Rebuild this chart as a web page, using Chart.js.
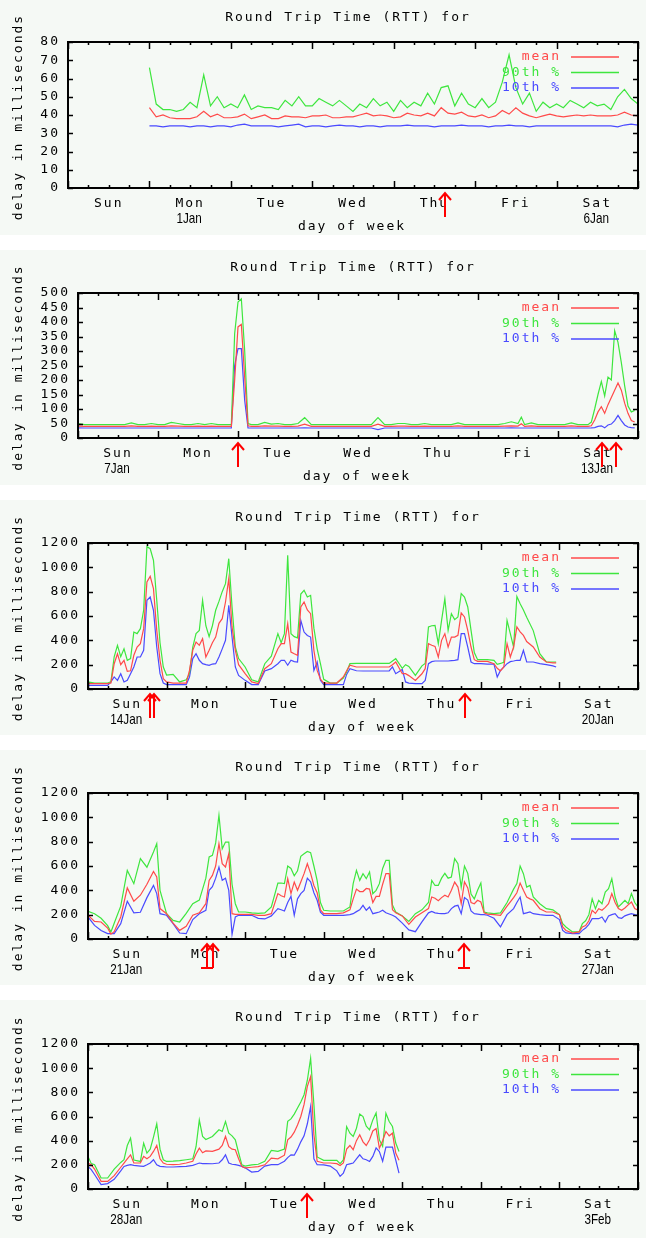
<!DOCTYPE html>
<html>
<head>
<meta charset="utf-8">
<title>Round Trip Time (RTT)</title>
<script src="https://cdn.jsdelivr.net/npm/chart.js@4.4.0/dist/chart.umd.min.js"></script>
<style>
  html, body { margin: 0; padding: 0; background: #ffffff; }
  canvas { position: absolute; left: 0; }
</style>
</head>
<body>
<canvas id="c1" width="646" height="235" style="top:0px;width:646px;height:235px"></canvas>
<canvas id="c2" width="646" height="235" style="top:250px;width:646px;height:235px"></canvas>
<canvas id="c3" width="646" height="235" style="top:500px;width:646px;height:235px"></canvas>
<canvas id="c4" width="646" height="235" style="top:750px;width:646px;height:235px"></canvas>
<canvas id="c5" width="646" height="238" style="top:1000px;width:646px;height:238px"></canvas>
<script>
// ---- labels ----
const days = ['Sun', 'Mon', 'Tue', 'Wed', 'Thu', 'Fri', 'Sat'];
const seriesNames = ['mean', '90th %', '10th %'];
const chartTitle = 'Round Trip Time (RTT) for';
const xTitle = 'day of week';
const yTitle = 'delay in milliseconds';

// ---- week 1 (1 Jan - 6 Jan), hours since Sunday 00:00 ----
const hours1 = [24,26,28,30,32,34,36,38,40,42,44,46, 48,50,52,54,56,58,60,62,64,66,68,70,
  72,74,76,78,80,82,84,86,88,90,92,94, 96,98,100,102,104,106,108,110,112,114,116,118,
  120,122,124,126,128,130,132,134,136,138,140,142, 144,146,148,150,152,154,156,158,160,162,164,166, 168];
const p90_1 = [66,46,43,43,42,43,47,44,62,45,50,44, 46,44,51,43,45,44,44,43,48,45,50,45,
  45,49,47,45,48,45,42,46,44,49,45,47, 42,48,44,47,45,52,46,55,56,45,52,46,
  44,49,44,47,58,73,55,46,52,42,47,44, 46,44,48,46,44,47,45,46,43,50,54,49, 46];
const mean1 = [44,39,40,38.5,38,38,38,39,42,39,40.5,38.5, 38.5,39,40.5,38,39,40,38,38,39.5,39,39,38.5,
  39.5,39.5,40,38.5,38.5,39,39,40,41,39.5,40,39.5, 38.5,39,41,40,39.5,41,39.5,44,41,40.5,41.5,39.5,
  39,40,38.5,39.5,42.5,40.5,44,41,39.5,38.5,39.5,40.5, 39.5,39,39.5,40,39.5,40,39.5,39.5,39.5,40,41.5,40, 39.5];
const p10_1 = [34,34,33.5,34,34,34,33.5,34,34,33.5,34,34, 33.5,34.5,35,34,34,34,34,33.5,34,34.5,35,33.5,
  34,34,33.5,34,34.5,34,34,33.5,34,34,33.5,34, 34,34,34.5,34,34,34,33.5,34,34,34,34.5,34,
  34,34,33.5,34,34,34.5,34,34,33.5,34,34,34, 34,34,34,34,34,34,34,34,34,33.5,34.5,35, 34.5];
const arrows1 = [111.2];
const bars1 = [];
const dates1 = ['', '1Jan', '', '', '', '', '6Jan'];

// ---- week 2 (7 Jan - 13 Jan) ----
const hours2 = [0,2,4,6,8,10,12,14,16,18,20,22,24,26,28,30,32,34,36,38,40,42,44,
  45,46,47,48,49,50,51,52,
  54,56,58,60,62,64,66,68,70,72, 74,76,78,80,82,84,86,88,90,92,
  94,96,98,100,102,104,106,108,110,112, 114,116,118,120,122,124,126,128,130,132,
  133, 134,136,138,140,142,144,146,148,150,152,
  153,154,155,156,157,158,159,160,161,162,163,164,165,166,167];
const p90_2 = [50,46,46,46,46,46,46,46,52,46,46,50,46,46,54,50,46,46,50,46,50,46,46,
  46,46,360,469,480,302,50,46,
  46,54,48,50,46,46,50,70,46,46, 46,46,46,46,46,46,46,46,70,46,
  46,50,50,46,46,50,46,46,46,46, 52,46,46,46,46,46,46,50,56,50,
  72, 46,52,46,46,46,46,46,52,46,46,
  46,55,100,150,195,145,210,200,370,330,260,180,110,90,95];
const mean2 = [41,40,40,40,40,40,40,40,42,40,40,41,40,40,42,41,40,40,41,40,41,40,40,
  40,40,200,383,392,210,42,40,
  40,42,41,41,40,40,41,48,40,40, 40,40,40,40,40,40,40,40,48,40,
  40,41,41,40,40,41,40,40,40,40, 42,40,40,40,40,40,40,41,42,41,
  49, 40,42,40,40,40,40,40,42,40,40,
  40,42,62,90,108,85,115,140,165,190,165,120,85,60,55];
const p10_2 = [35,34.5,34.5,34.5,34.5,34.5,34.5,34.5,34.5,34.5,34.5,34.5,34.5,34.5,34.5,34.5,34.5,34.5,34.5,34.5,34.5,34.5,34.5,
  34.5,34.5,250,308,308,130,35,34.5,
  34.5,34.5,34.5,34.5,34.5,34.5,34.5,35,34.5,34.5, 34.5,34.5,34.5,34.5,34.5,34.5,34.5,34.5,29,34.5,
  34.5,34.5,34.5,34.5,34.5,34.5,34.5,34.5,34.5,34.5, 34.5,34.5,34.5,34.5,34.5,34.5,34.5,34.5,35,34.5,
  34.5, 34.5,34.5,34.5,34.5,34.5,34.5,34.5,34.5,34.5,34.5,
  34.5,35,36,40,42,35,45,48,60,78,60,45,38,36,35];
const arrows2 = [47.9, 157.3, 161.5];
const bars2 = [];
const dates2 = ['7Jan', '', '', '', '', '', '13Jan'];

// ---- week 3 (14 Jan - 20 Jan) ----
const hours3 = [0,2,4,6,
  7,8,9,10,11,12,13,14,15,16,17,18,19,20,21,22,23,24,
  26,28,30,
  31,32,33,34,35,36,37,38,39,40,41,42,43,44,45,46,
  48,50,52,54,56,58,
  59,60,61,62,63,64,65,66,67,68,69,70,71,72,
  74,76,78,
  79,80,82,84,86,88,90,92,
  93,94,96,97,98,100,102,
  103,104,105,106,107,108,109,110,111,112,113,114,115,116,117,118,119,
  120,122,124,
  125,126,127,128,129,130,131,132,133,134,
  136,138,140,142,143];
const p90_3 = [58,49,49,49,
  60,265,359,265,331,236,250,468,455,496,647,1170,1153,1058,729,380,181,115,
  120,58,75,
  126,345,455,482,729,520,430,520,647,720,800,866,1071,674,345,250,
  181,75,58,208,270,455,
  380,455,1099,455,430,420,780,811,756,770,500,330,208,80,
  49,49,90,
  140,208,210,210,210,210,210,210,
  230,249,170,200,185,112,190,
  210,510,520,523,373,564,742,482,619,570,592,784,756,674,482,300,241,
  241,241,235,
  203,210,220,564,455,345,760,701,650,590,
  480,290,222,222,222];
const mean3 = [44,44,44,44,
  50,208,290,200,236,145,150,277,345,373,496,880,926,825,482,236,85,58,
  49,49,49,
  153,318,386,359,414,263,318,380,427,540,578,715,907,510,318,200,
  126,58,44,167,208,331,
  373,373,537,304,290,277,674,715,650,619,318,153,80,49,
  49,49,99,
  150,195,181,181,181,181,181,181,
  200,222,126,126,110,71,125,
  167,373,360,350,263,400,455,345,427,427,441,625,592,482,345,241,227,
  227,227,208,
  170,148,181,373,263,345,510,470,440,390,
  345,263,222,215,215];
const p10_3 = [30,30,30,30,
  58,99,71,126,58,71,126,181,263,263,318,729,756,647,345,126,49,36,
  36,36,36,
  99,250,290,236,208,200,195,205,208,263,330,400,688,427,181,112,
  71,36,36,148,167,208,
  236,236,195,236,225,222,564,468,440,427,153,222,71,36,
  36,36,36,
  120,167,150,148,148,148,148,148,
  181,126,160,58,49,44,44,
  71,208,225,230,230,230,230,230,233,236,241,455,455,345,222,208,208,
  208,205,205,
  99,153,180,208,225,230,236,236,318,222,
  222,208,200,190,181];
const arrows3 = [19.0, 20.2, 115.3];
const bars3 = [];
const dates3 = ['14Jan', '', '', '', '', '', '20Jan'];

// ---- week 4 (21 Jan - 27 Jan) ----
const hours4 = [0,2,4,6,7,8,10,12,14,16,18,20,21,22,24,26,28,30,32,34,36,
  37,38,39,40,41,42,43,44,45,46,
  48,50,52,54,56,58,
  59,60,61,62,63,64,65,66,67,68,69,70,71,72,
  74,76,78,80,
  81,82,83,84,85,86,87,88,89,90,91,92,93,94,
  96,98,100,102,104,
  105,106,107,108,109,110,111,112,113,114,115,116,117,118,119,120,121,122,
  124,126,128,130,
  131,132,133,134,135,136,
  138,140,142,144,
  145,146,148,150,
  151,152,153,154,155,156,157,158,159,160,161,162,163,164,165,166,167,168];
const p90_4 = [227,208,170,110,58,130,270,564,455,660,590,715,784,400,208,153,140,210,290,320,500,
  674,688,790,1017,742,797,797,450,290,222,
  222,215,210,215,263,460,
  460,455,600,580,520,560,680,700,720,710,600,480,300,236,
  230,230,230,263,
  455,564,482,537,496,551,373,400,455,580,647,647,280,222,
  190,145,208,240,300,
  482,440,440,500,540,500,510,660,619,427,600,540,370,330,400,460,222,215,
  208,215,300,410,
  455,600,537,427,441,345,
  290,249,240,200,
  126,99,58,58,
  126,150,200,331,249,318,290,386,414,496,345,263,290,318,290,373,300,263];
const mean4 = [195,145,140,90,40,60,181,420,310,360,450,555,510,250,208,130,71,105,195,215,290,
  482,523,600,784,619,592,701,208,203,203,
  203,203,195,195,208,373,
  355,345,496,373,468,400,468,537,619,540,440,380,240,208,
  208,208,215,240,
  330,410,390,390,415,410,300,350,350,450,537,537,240,215,
  190,120,181,215,250,
  345,335,315,340,360,345,400,468,427,290,470,420,300,290,318,304,215,205,
  200,195,270,340,
  380,460,400,345,330,318,
  249,222,222,200,
  99,70,49,58,
  99,110,150,236,210,249,236,260,290,373,300,250,236,255,280,304,250,236];
const p10_4 = [181,112,70,44,44,44,126,310,215,220,340,441,373,208,195,126,49,44,160,208,236,
  400,430,500,592,482,500,400,38,181,195,
  195,195,170,165,190,250,
  240,230,300,350,195,330,373,400,500,470,380,318,220,195,
  195,195,195,200,
  208,225,240,277,236,263,208,215,222,236,215,205,195,180,
  130,75,60,140,215,
  227,215,210,208,208,215,250,270,277,208,340,320,230,208,205,200,200,195,
  170,100,200,250,
  300,345,208,215,222,208,
  200,195,195,160,
  71,50,44,44,
  71,90,120,167,167,167,181,140,190,200,208,175,170,190,200,208,200,195];
const arrows4 = [36.5, 38.3, 114.8];
const bars4 = [36.5, 114.8];
const dates4 = ['21Jan', '', '', '', '', '', '27Jan'];

// ---- week 5 (28 Jan - 3 Feb) ----
const hours5 = [0,1,2,4,6,8,10, 11,12,13,14, 16,17,18,19,20,21,22,23,24, 26,28,30,32,
  33,34,35,36, 38,40, 41,42,43,44,45,46,47,48, 50,52,54,56,58,60,
  61,62,63,64,65,66,67,68,69,70, 72,74,76,
  77,78,79,80,81,82,83,84,85,86,87,88,89,90,91,92,93,94,95];
const p90_5 = [270,210,201,91,91,165,220, 242,360,421,240, 228,380,297,330,430,540,330,242,228, 230,235,242,250,
  350,570,435,410, 435,490, 476,559,462,440,407,300,200,190, 200,205,230,320,311,330,
  560,580,620,670,720,780,900,1082,700,265, 237,237,237,
  210,240,517,462,435,503,620,600,520,490,572,630,407,352,627,559,517,380,311];
const mean5 = [215,200,165,63,63,110,180, 215,250,283,215, 215,270,250,270,311,360,250,215,205, 201,205,215,230,
  290,338,300,315, 311,330, 360,435,350,330,325,250,185,175, 180,185,200,256,250,280,
  407,430,470,530,600,700,850,930,450,230, 215,215,210,
  195,215,330,360,325,400,449,390,360,407,480,500,338,400,476,440,462,297,237];
const p10_5 = [187,160,120,36,45,80,150, 187,195,201,195, 190,187,200,215,242,200,187,185,182, 182,185,187,195,
  205,215,210,210, 209,215, 242,283,215,205,201,195,187,175, 140,146,190,201,201,230,
  260,283,280,330,390,440,540,682,250,201, 200,190,150,
  105,132,201,208,215,250,283,250,242,228,270,340,310,230,347,347,347,240,132];
const arrows5 = [66.8];
const bars5 = [];
const dates5 = ['28Jan', '', '', '', '', '', '3Feb'];

// ---- look ----
const RED = '#ff4a4a';
const GREEN = '#3ee63e';
const BLUE = '#4a4aff';
const ARROW = '#ff0000';
const PANEL_BG = '#f5f9f5';
const MONO = '13px "DejaVu Sans Mono", monospace';

function pts(hours, vals) {
  if (hours.length !== vals.length) {
    throw new Error('length mismatch ' + hours.length + ' vs ' + vals.length);
  }
  return hours.map((h, i) => ({ x: h, y: vals[i] }));
}

function makeDecor(p) {
  return {
    id: 'rttDecor',
    beforeDraw(chart) {
      const ctx = chart.ctx;
      ctx.save();
      ctx.fillStyle = PANEL_BG;
      ctx.fillRect(0, 0, chart.width, chart.height);
      ctx.restore();
    },
    afterDraw(chart) {
      const ctx = chart.ctx;
      const a = chart.chartArea;
      const x = chart.scales.x;
      const y = chart.scales.y;
      const midX = (a.left + a.right) / 2;

      ctx.save();
      ctx.strokeStyle = '#000';
      ctx.lineWidth = 1.5;

      // x ticks, pointing inward, top and bottom
      ctx.beginPath();
      for (let h = 0; h <= 168; h += 6) {
        const px = Math.round(x.getPixelForValue(h)) + 0.5;
        const len = h % 24 === 0 ? 7 : 3;
        ctx.moveTo(px, a.bottom); ctx.lineTo(px, a.bottom - len);
        ctx.moveTo(px, a.top); ctx.lineTo(px, a.top + len);
      }
      // y ticks, both sides
      for (let v = 0; v <= p.yMax; v += p.yStep) {
        const py = Math.round(y.getPixelForValue(v)) + 0.5;
        ctx.moveTo(a.left, py); ctx.lineTo(a.left + 5, py);
        ctx.moveTo(a.right, py); ctx.lineTo(a.right - 5, py);
      }
      ctx.stroke();

      // frame
      ctx.lineWidth = 2;
      ctx.strokeRect(a.left, a.top, a.right - a.left, a.bottom - a.top);

      ctx.fillStyle = '#000';
      ctx.font = MONO;
      ctx.letterSpacing = '2px';
      ctx.textBaseline = 'middle';

      // y tick labels
      ctx.textAlign = 'right';
      for (let v = 0; v <= p.yMax; v += p.yStep) {
        ctx.fillText(String(v), a.left - 8, y.getPixelForValue(v));
      }

      // title and axis titles
      ctx.textAlign = 'center';
      ctx.fillText(chartTitle, midX - 5, 18);
      ctx.fillText(xTitle, midX - 1, a.bottom + 39);
      ctx.save();
      ctx.translate(19, (a.top + a.bottom) / 2 + 2);
      ctx.rotate(-Math.PI / 2);
      ctx.fillText(yTitle, 0, 0);
      ctx.restore();

      // day names at noon, dates underneath
      days.forEach((d, i) => {
        const px = x.getPixelForValue(12 + 24 * i);
        ctx.fillText(d, px, a.bottom + 16);
        if (p.dates[i]) {
          ctx.save();
          ctx.letterSpacing = '0px';
          ctx.font = '15px "Liberation Sans", sans-serif';
          ctx.translate(px - 1, a.bottom + 31);
          ctx.scale(0.78, 1);
          ctx.fillText(p.dates[i], 0, 0);
          ctx.restore();
        }
      });

      // legend, top right inside the plot
      const colors = [RED, GREEN, BLUE];
      ctx.textAlign = 'right';
      seriesNames.forEach((name, i) => {
        const ly = a.top + 15 + i * 15.5;
        ctx.fillStyle = colors[i];
        ctx.fillText(name, a.right - 77, ly);
        ctx.strokeStyle = colors[i];
        ctx.lineWidth = 1.5;
        ctx.beginPath();
        ctx.moveTo(a.right - 67, ly);
        ctx.lineTo(a.right - 19, ly);
        ctx.stroke();
      });

      // red event arrows under the axis
      ctx.strokeStyle = ARROW;
      ctx.lineWidth = 2;
      p.arrows.forEach(h => {
        const px = Math.round(x.getPixelForValue(h));
        const top = a.bottom + 5;
        ctx.beginPath();
        ctx.moveTo(px, top); ctx.lineTo(px, top + 24);
        ctx.moveTo(px - 6, top + 7); ctx.lineTo(px, top); ctx.lineTo(px + 6, top + 7);
        ctx.stroke();
      });
      p.bars.forEach(h => {
        const px = Math.round(x.getPixelForValue(h));
        ctx.beginPath();
        ctx.moveTo(px - 6, a.bottom + 29); ctx.lineTo(px + 6, a.bottom + 29);
        ctx.stroke();
      });
      ctx.restore();
    }
  };
}

const panels = [
  { id: 'c1', hours: hours1, mean: mean1, p90: p90_1, p10: p10_1, yMax: 80, yStep: 10,
    pad: { left: 68, top: 42, right: 8, bottom: 47 }, arrows: arrows1, bars: bars1, dates: dates1 },
  { id: 'c2', hours: hours2, mean: mean2, p90: p90_2, p10: p10_2, yMax: 500, yStep: 50,
    pad: { left: 78, top: 43, right: 8, bottom: 47 }, arrows: arrows2, bars: bars2, dates: dates2 },
  { id: 'c3', hours: hours3, mean: mean3, p90: p90_3, p10: p10_3, yMax: 1200, yStep: 200,
    pad: { left: 88, top: 43, right: 8, bottom: 46 }, arrows: arrows3, bars: bars3, dates: dates3 },
  { id: 'c4', hours: hours4, mean: mean4, p90: p90_4, p10: p10_4, yMax: 1200, yStep: 200,
    pad: { left: 88, top: 43, right: 8, bottom: 46 }, arrows: arrows4, bars: bars4, dates: dates4 },
  { id: 'c5', hours: hours5, mean: mean5, p90: p90_5, p10: p10_5, yMax: 1200, yStep: 200,
    pad: { left: 88, top: 44, right: 8, bottom: 49 }, arrows: arrows5, bars: bars5, dates: dates5 }
];

panels.forEach(p => {
  const line = (label, vals, color) => ({
    label: label,
    data: pts(p.hours, vals),
    borderColor: color,
    borderWidth: 1.2,
    pointRadius: 0,
    fill: false,
    tension: 0
  });
  new Chart(document.getElementById(p.id), {
    type: 'line',
    data: {
      datasets: [
        line(seriesNames[0], p.mean, RED),
        line(seriesNames[1], p.p90, GREEN),
        line(seriesNames[2], p.p10, BLUE)
      ]
    },
    options: {
      responsive: false,
      animation: false,
      devicePixelRatio: 1,
      layout: { padding: p.pad },
      plugins: { legend: { display: false }, tooltip: { enabled: false } },
      scales: {
        x: { type: 'linear', min: 0, max: 168, display: false },
        y: { type: 'linear', min: 0, max: p.yMax, display: false }
      }
    },
    plugins: [makeDecor(p)]
  });
});
</script>
</body>
</html>
